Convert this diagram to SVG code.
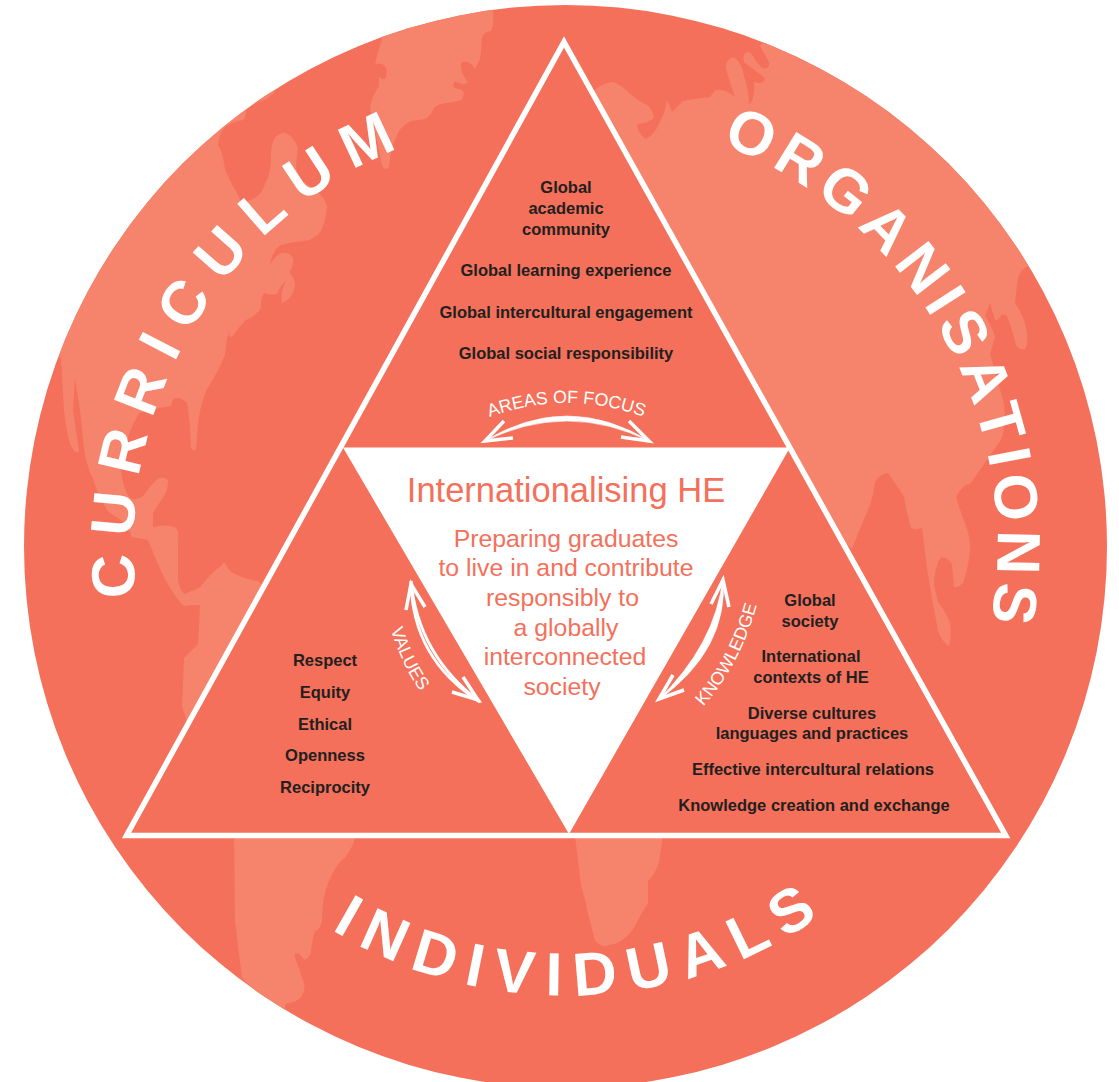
<svg xmlns="http://www.w3.org/2000/svg" width="1119" height="1082" viewBox="0 0 1119 1082">
<style>
.land{fill:#f6836b}
.big{font:bold 61px "Liberation Sans",Arial,sans-serif;fill:#fff;text-anchor:middle}
.lab{font:bold 16.5px "Liberation Sans",Arial,sans-serif;fill:#231f20;text-anchor:middle}
.ctr{font:24.800px "Liberation Sans",Arial,sans-serif;fill:#f4705a;text-anchor:middle}
.cap{font:17.800px "Liberation Sans",Arial,sans-serif;fill:#fff;text-anchor:middle}
.shaft{fill:#fff;stroke:#fff;stroke-width:.6}
.barb{fill:none;stroke:#fff;stroke-width:3.500}
.dbl{fill:none;stroke:#fff;stroke-width:2.800}
</style>
<defs>
<clipPath id="disc"><circle cx="565.5" cy="546.5" r="541.5"/></clipPath>
<path id="arcTop" d="M565.5 978.5A432 432 0 0 1 565.5 114.5A432 432 0 0 1 565.5 978.5"/>
<path id="arcBot" d="M565.5 97.5A449 449 0 0 0 565.5 995.5A449 449 0 0 0 565.5 97.5"/>
<path id="pFocus" d="M470 425Q567 381 663 425"/>
<path id="pValues" d="M386 610Q397 664 432 707"/>
<path id="pKnow" d="M691 719Q743 670 761 588"/>
</defs>
<g id="globe">
<circle cx="565.5" cy="546.5" r="541.5" fill="#f4705a"/>
<g clip-path="url(#disc)">
<path class="land" d="M500 0L493 10Q494 26 491 31Q483 32 482 38Q481 52 480 59L475 69Q470 60 462 62Q458 68 468 83Q462 86 455 81Q451 86 455 88Q462 89 464 93Q463 99 461 100Q452 103 446 103Q438 104 434 108Q430 117 425 119L411 121Q402 125 398 133Q393 143 391 152L389 167Q385 172 382 165L370 107Q372 96 379 86L379 77Q386 82 386 76Q388 68 384 65Q378 62 375 65Q378 50 382 40L380 0Z"/>
<path class="land" d="M275 91Q270 98 264 100Q252 104 246 110Q246 118 243 120Q232 122 225 127Q219 134 218 145L221 151Q224 160 225 169Q230 182 237 193Q242 202 243 210Q245 200 250 200Q262 196 264 186Q270 176 271 162Q270 145 275 138Q280 132 286 133Q295 138 298 148L296 165Q296 172 300 179L315 190Q326 198 327 207Q326 220 321 231Q314 240 304 241Q290 242 279 246Q272 252 270 265Q276 254 282 253Q290 252 293 258Q294 266 289 272Q295 278 295 286Q292 300 282 303Q280 292 286 281Q280 286 277 294Q270 296 264 293Q260 300 261 308Q254 318 246 320Q238 328 232 337Q229 338 229 331Q226 342 225 355Q216 376 207 389Q200 405 198 424L196 449Q193 452 191 448Q190 420 187 403Q180 396 173 399L171 406Q156 408 139 413Q132 425 128 437Q122 455 121 472L123 482Q126 496 132 499Q138 500 143 496Q150 486 157 479Q164 476 168 480Q168 490 164 496Q158 505 153 513L153 527Q166 524 175 527Q180 532 178 540L178 580Q180 592 185 594L189 592Q196 590 200 587Q212 572 221 566L224 562L230 571Q240 578 258 581L300 620L200 730L187 722L182 706L184 658L198 644L200 605L190 605Q184 608 180 602Q170 590 161 571Q154 555 148 540L132 537Q128 525 121 520Q112 515 107 510Q98 495 93 479Q86 465 84 448L80 410L75 379L73 410L79 451Q76 456 70 444Q66 430 64 410L61 358L30 358L120 120Z"/>
<path class="land" d="M234 836L235 921L242 978L285 1020L285 1004Q298 1002 301 997Q306 990 304 983Q298 965 294 955Q298 950 304 960Q310 958 311 952Q312 940 315 931Q320 930 322 921Q322 900 327 886Q333 870 340 862Q350 855 356 836Z"/>
<path class="land" d="M575 836Q578 860 581 886Q586 900 588 914Q592 928 595 941Q602 948 609 945Q618 944 625 938Q632 932 636 924Q642 912 648 903L648 881Q655 875 659 862L663 836Z"/>
<path class="land" d="M590 95L597 88Q604 83 613 82Q620 84 626 90Q636 100 647 105Q653 110 654 118Q646 124 637 124Q638 134 646 139Q655 134 660 122Q666 110 667 100Q669 104 672 112Q678 106 683 101Q698 98 710 97L715 90Q725 88 735 97Q731 86 726 69Q725 60 733 57Q741 60 744 76Q749 90 749 105Q755 100 754 82Q764 85 765 78L744 62Q742 55 747 52Q752 52 755 60L762 68Q770 70 769 62L760 46L770 30L1120 260L1029 265Q1020 270 1018 278Q1016 292 1015 303Q1024 315 1027 332Q1028 345 1025 349Q1018 350 1016 345Q1012 328 1007 316L1002 314Q998 322 995 320L990 303L985 316Q992 326 995 337L990 354Q998 380 1004 404Q1006 420 1002 438Q986 462 970 484Q963 484 956 497Q960 510 966 526Q971 540 970 551Q968 570 963 583Q958 588 954 587L952 564Q946 556 940 558Q934 570 934 585L938 602Q946 612 950 623Q952 636 949 646Q942 642 938 631Q932 600 927 568L922 528Q916 530 911 528Q906 510 904 497Q896 484 888 473Q880 474 875 482Q874 494 870 505Q860 528 852 549L800 500L560 100Z"/>
</g>
</g>
<g id="triangle">
<path d="M564 42L1005.700 835.500L126.500 835.500Z" fill="#f4705a" stroke="#fff" stroke-width="5.500"/>
<path d="M343 447.500L790 447.500L569 834Z" fill="#fff"/>
</g>
<g id="curriculum"><text class="big" transform="rotate(-58.700 565.500 546.500)" letter-spacing="16"><textPath href="#arcTop" startOffset="50%">CURRICULUM</textPath></text></g>
<g id="organisations"><text class="big" transform="rotate(61 565.500 546.500)" letter-spacing="7"><textPath href="#arcTop" startOffset="50%">ORGANISATIONS</textPath></text></g>
<g id="individuals"><text class="big" transform="rotate(-2.300 565.500 546.500)" letter-spacing="12.600"><textPath href="#arcBot" startOffset="50%">INDIVIDUALS</textPath></text></g>
<g id="centre">
<text class="ctr" x="566" y="502" style="font-size:34.500px">Internationalising HE</text>
<text class="ctr" x="566" y="547">Preparing graduates</text>
<text class="ctr" x="566" y="576">to live in and contribute</text>
<text class="ctr" x="562.500" y="606">responsibly to</text>
<text class="ctr" x="566" y="636">a globally</text>
<text class="ctr" x="565" y="665">interconnected</text>
<text class="ctr" x="562" y="695">society</text>
</g>
<g id="focus">
<text class="lab" x="566" y="193">Global</text>
<text class="lab" x="566" y="214">academic</text>
<text class="lab" x="566" y="235">community</text>
<text class="lab" x="566" y="276">Global learning experience</text>
<text class="lab" x="566" y="318">Global intercultural engagement</text>
<text class="lab" x="566" y="359">Global social responsibility</text>
<text class="cap"><textPath href="#pFocus" startOffset="50%">AREAS OF FOCUS</textPath></text>
</g>
<g id="values">
<text class="lab" x="325" y="666">Respect</text>
<text class="lab" x="325" y="698">Equity</text>
<text class="lab" x="325" y="730">Ethical</text>
<text class="lab" x="325" y="761">Openness</text>
<text class="lab" x="325" y="793">Reciprocity</text>
<text class="cap"><textPath href="#pValues" startOffset="50%">VALUES</textPath></text>
</g>
<g id="knowledge">
<text class="lab" x="810" y="606">Global</text>
<text class="lab" x="810" y="627">society</text>
<text class="lab" x="811" y="662">International</text>
<text class="lab" x="811" y="683">contexts of HE</text>
<text class="lab" x="812" y="719">Diverse cultures</text>
<text class="lab" x="812" y="739">languages and practices</text>
<text class="lab" x="813" y="775">Effective intercultural relations</text>
<text class="lab" x="814" y="811">Knowledge creation and exchange</text>
<text class="cap"><textPath href="#pKnow" startOffset="50%">KNOWLEDGE</textPath></text>
</g>
<g id="connectors">
<path class="shaft" d="M483 442Q567 390 651 442Q567 400 483 442Z"/>
<path class="barb" d="M504 421L485 441L513 438M629 421L649 441L621 437"/>
<path class="dbl" d="M411 581Q412 659 480 702"/>
<path class="dbl" d="M411 581Q418 655 480 702"/>
<path class="barb" d="M406 610L411 584L425 607M463 677L478 700L452 692"/>
<path class="shaft" d="M723 577Q729 650 657 701Q716 644 723 577Z"/>
<path class="barb" d="M711 604L723 580L729 607M673 675L659 699L684 690"/>
</g>
</svg>
